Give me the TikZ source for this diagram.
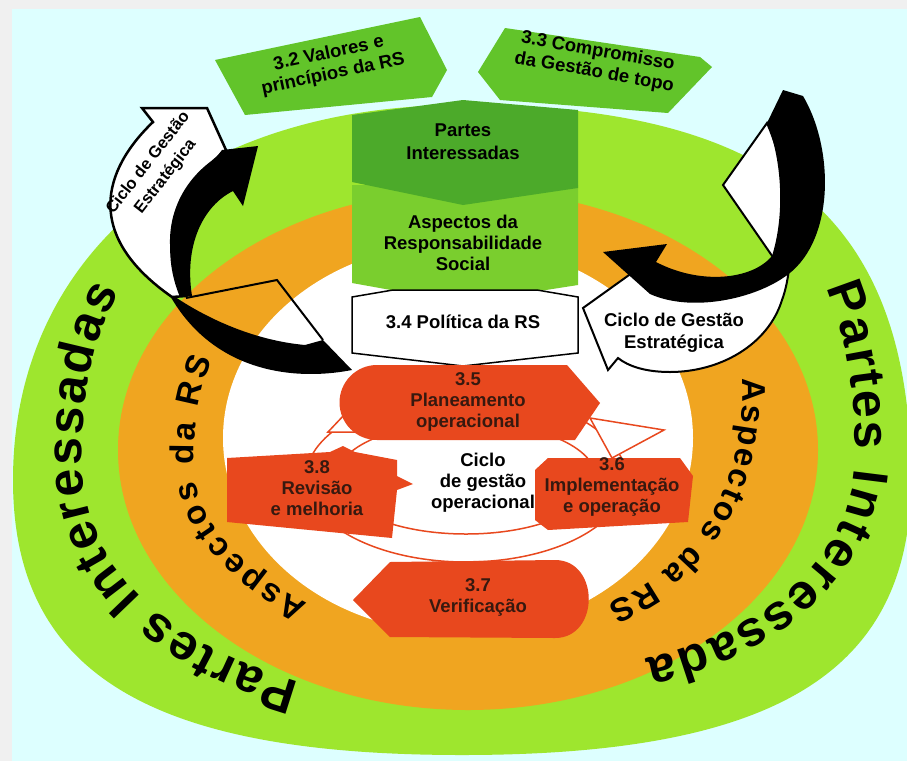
\documentclass[tikz,border=0pt]{standalone}
\usepackage{fontspec}
\setmainfont{Liberation Sans}
\usepackage{tikz}
\usetikzlibrary{decorations.text}

\definecolor{framegray}{RGB}{240,240,240}
\definecolor{skycyan}{RGB}{221,255,255}
\definecolor{ringgreen}{RGB}{158,230,46}
\definecolor{ringorange}{RGB}{240,165,32}
\definecolor{boxgreen}{RGB}{98,196,42}
\definecolor{darkgreen}{RGB}{76,170,42}
\definecolor{midgreen}{RGB}{122,206,46}
\definecolor{cyclered}{RGB}{232,72,30}
\definecolor{redtext}{RGB}{55,25,15}

\newcommand{\boxfont}{\fontsize{18.5}{21}\selectfont\bfseries}
\newcommand{\ringfont}{\fontsize{50}{50}\selectfont\bfseries}
\newcommand{\aspfont}{\fontsize{33}{33}\selectfont\bfseries}

\begin{document}
\begin{tikzpicture}[x=1pt,y=-1pt,
	label/.style={font=\boxfont,align=center,text=black},
	redlabel/.style={label,text=redtext},
	ringtext/.style={decorate,decoration={text along path,text align={fit to path},text={|\ringfont|#1}}},
	asptext/.style={decorate,decoration={text along path,text align={fit to path},text={|\aspfont|#1}}}]
		\useasboundingbox (0,0) rectangle (907,761);
		\fill[framegray] (0,0) rectangle (907,761);
		\fill[skycyan] (12,9) rectangle (907,761);
		%
		% rings
		\fill[ringgreen] (13,480) .. controls (13,255) and (193,105) .. (462,105)
			.. controls (776,105) and (911,218) .. (911,480)
			.. controls (911,672) and (776,755) .. (462,755)
			.. controls (148,755) and (13,672) .. (13,480) -- cycle;
		\fill[ringorange] (468,450) ellipse[x radius=350,y radius=260];
		\fill[white] (458,438) ellipse[x radius=235,y radius=195];
		%
		% texts along the rings
		\path[ringtext={Partes Interessadas}] (300,682) .. controls (170,645) and (82,570) .. (82,460)
			.. controls (82,380) and (97,330) .. (120,292);
		\path[ringtext={Partes Interessada}] (826,288) .. controls (848,340) and (856,400) .. (855,460)
			.. controls (852,560) and (760,636) .. (645,658);
		\path[asptext={Aspectos da RS}] (308,603) .. controls (240,570) and (196,520) .. (194,470)
			.. controls (193,430) and (198,392) .. (212,360);
		\path[asptext={Aspectos da RS}] (742,378) .. controls (747,480) and (700,565) .. (608,604);
		%
		% strategic cycle, left
		\fill[black] (168,292) .. controls (200,315) and (250,340) .. (305,345) -- (323,340) -- (352,370)
			.. controls (290,382) and (210,370) .. (168,292) -- cycle;
		\draw[line width=2] (186,298) -- (277,280) -- (323,340);
		\filldraw[fill=white,draw=black,line width=2.5] (142,108) -- (153,122) .. controls (103,170) and (83,235) .. (172,297)
			-- (186,296) .. controls (160,250) and (168,195) .. (212,162) -- (226,150) -- (207,108) -- cycle;
		\fill[black] (180,297) .. controls (160,250) and (170,192) .. (214,160) -- (222,150) -- (258,146)
			-- (243,206) -- (233,191) .. controls (203,206) and (184,245) .. (192,296) -- cycle;
		\node[label,rotate=52,font=\fontsize{16.5}{22}\selectfont\bfseries] (estratL) at (157,170) {Ciclo de Gestão\\Estratégica};
		%
		% strategic cycle, right
		\filldraw[fill=white,draw=black,line width=2] (583,308) -- (643,265) -- (640,283) .. controls (700,292) and (760,285) .. (777,263)
			-- (723,185) -- (767,123) .. controls (792,180) and (797,260) .. (782,300)
			.. controls (768,345) and (720,372) .. (670,372) .. controls (645,372) and (628,366) .. (618,358) -- (608,370) -- cycle;
		\fill[black] (783,90) -- (803,96) .. controls (835,150) and (835,245) .. (783,278)
			.. controls (750,300) and (690,312) .. (650,294) -- (603,252) -- (667,244) -- (656,262)
			.. controls (700,285) and (752,280) .. (772,256) .. controls (785,215) and (782,160) .. (767,123) -- cycle;
		\node[label,font=\fontsize{18.5}{22}\selectfont\bfseries] (estratR) at (674,333) {Ciclo de Gestão\\Estratégica};
		%
		% top boxes
		\fill[boxgreen] (215,60) -- (420,17) -- (447,70) -- (432,97) -- (245,115) -- cycle;
		\node[label,rotate=12] (valores) at (331,64) {3.2 Valores e\\princípios da RS};
		\fill[boxgreen] (478,72) -- (505,28) -- (700,57) -- (712,67) -- (668,113) -- (500,100) -- cycle;
		\node[label,rotate=-10] (compromisso) at (596,62) {3.3 Compromisso\\da Gestão de topo};
		\fill[midgreen] (352,185) -- (578,185) -- (578,285) -- (463,303) -- (352,283) -- cycle;
		\fill[darkgreen] (352,115) -- (463,100) -- (578,110) -- (578,188) -- (463,205) -- (352,182) -- cycle;
		\node[label,font=\fontsize{18.5}{23}\selectfont\bfseries] (partes) at (463,142) {Partes\\Interessadas};
		\node[label] (aspectos) at (463,243) {Aspectos da\\Responsabilidade\\Social};
		\filldraw[fill=white,draw=black,line width=1.5] (352,297) -- (393,290) -- (537,290) -- (578,297)
			-- (578,353) -- (463,366) -- (352,353) -- cycle;
		\node[label] (politica) at (463,322) {3.4 Política da RS};
		%
		% operational cycle
		\draw[cyclered,line width=1.5] (466,478) ellipse[x radius=160,y radius=84];
		\draw[cyclered,line width=1.5] (466,478) ellipse[x radius=130,y radius=56];
		\filldraw[fill=white,draw=cyclered,line width=1.5] (328,432) -- (362,396) -- (376,432) -- cycle;
		\filldraw[fill=white,draw=cyclered,line width=1.5] (590,418) -- (664,430) -- (612,458) -- cycle;
		\fill[cyclered] (377,440) arc[start angle=90,end angle=270,radius=37.5] -- (567,365) -- (600,403) -- (575,440) -- cycle;
		\fill[cyclered] (535,470) -- (548,458) -- (680,458) -- (693,476) -- (688,522) -- (548,530) -- (535,520) -- cycle;
		\fill[cyclered] (353,600) -- (390,562) -- (555,560) .. controls (600,560) and (600,638) .. (555,638) -- (390,637) -- cycle;
		\fill[cyclered] (227,458) -- (330,452) -- (343,446) -- (355,452) -- (397,460) -- (397,476) -- (413,484)
			-- (397,490) -- (392,538) -- (227,522) -- cycle;
		\node[redlabel] (planeamento) at (468,402) {3.5\\Planeamento\\operacional};
		\node[redlabel] (implementacao) at (612,487) {3.6\\Implementação\\e operação};
		\node[redlabel] (verificacao) at (478,597) {3.7\\Verificação};
		\node[redlabel] (revisao) at (317,488) {3.8\\Revisão\\e melhoria};
		\node[label] (ciclo) at (483,483) {Ciclo\\de gestão\\operacional};
\end{tikzpicture}
\end{document}
